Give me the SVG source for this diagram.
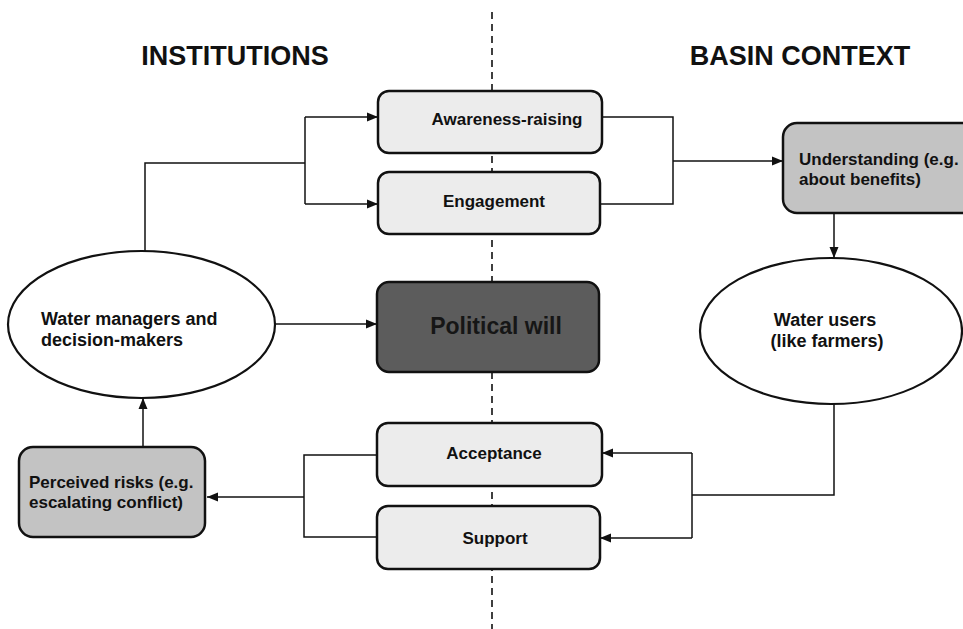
<svg xmlns="http://www.w3.org/2000/svg" width="963" height="629" viewBox="0 0 963 629">
  <style>
    text { font-family: "Liberation Sans", Arial, sans-serif; font-weight: bold; fill: #111; }
    .title { font-size: 27px; }
    .lbl { font-size: 17px; }
    .big { font-size: 23px; fill: #161616; }
    .ell { font-size: 18px; }
    .box { stroke: #111; stroke-width: 2.5; }
    .light { fill: #ececec; }
    .mid { fill: #c3c3c3; }
    .dark { fill: #5c5c5c; }
    .oval { fill: #fff; stroke: #111; stroke-width: 2.2; }
    .wire { fill: none; stroke: #111; stroke-width: 1.5; }
    .divider { stroke: #111; stroke-width: 1.6; stroke-dasharray: 7 5; }
  </style>
  <defs>
    <marker id="arrow" viewBox="0 0 11 10" refX="11" refY="5" markerWidth="11" markerHeight="10" markerUnits="userSpaceOnUse" orient="auto">
      <path d="M0,0.5 L11,5 L0,9.5 Z" fill="#111"/>
    </marker>
  </defs>

  <rect width="963" height="629" fill="#fff"/>

  <!-- central divider -->
  <line class="divider" x1="492" y1="12" x2="492" y2="629"/>

  <!-- headings -->
  <text class="title" x="235" y="65" text-anchor="middle">INSTITUTIONS</text>
  <text class="title" x="800" y="65" text-anchor="middle">BASIN CONTEXT</text>

  <!-- connectors -->
  <g id="connectors">
    <path class="wire" d="M145,251 V163 H305"/>
    <path class="wire" d="M305,117 V204"/>
    <path class="wire" d="M305,117 H378" marker-end="url(#arrow)"/>
    <path class="wire" d="M305,204 H378" marker-end="url(#arrow)"/>
    <path class="wire" d="M602,117 H673 V204 H600"/>
    <path class="wire" d="M673,161 H783" marker-end="url(#arrow)"/>
    <path class="wire" d="M834,213 V258" marker-end="url(#arrow)"/>
    <path class="wire" d="M275,324 H377" marker-end="url(#arrow)"/>
    <path class="wire" d="M834,404 V495 H692"/>
    <path class="wire" d="M692,453 V538"/>
    <path class="wire" d="M692,453 H602" marker-end="url(#arrow)"/>
    <path class="wire" d="M692,538 H600" marker-end="url(#arrow)"/>
    <path class="wire" d="M377,455 H304 V537 H377"/>
    <path class="wire" d="M304,497 H207" marker-end="url(#arrow)"/>
    <path class="wire" d="M143,447 V398" marker-end="url(#arrow)"/>
  </g>

  <g id="awareness">
    <rect class="box light" x="378" y="91" width="224" height="62" rx="11"/>
    <text class="lbl" x="507" y="125" text-anchor="middle">Awareness-raising</text>
  </g>
  <g id="engagement">
    <rect class="box light" x="378" y="172" width="222" height="62" rx="11"/>
    <text class="lbl" x="494" y="207" text-anchor="middle">Engagement</text>
  </g>
  <g id="political-will">
    <rect class="box dark" x="377" y="282" width="222" height="90" rx="12"/>
    <text class="big" x="496" y="334" text-anchor="middle">Political will</text>
  </g>
  <g id="acceptance">
    <rect class="box light" x="377" y="423" width="225" height="63" rx="11"/>
    <text class="lbl" x="494" y="459" text-anchor="middle">Acceptance</text>
  </g>
  <g id="support">
    <rect class="box light" x="377" y="506" width="223" height="63" rx="11"/>
    <text class="lbl" x="495" y="544" text-anchor="middle">Support</text>
  </g>
  <g id="understanding">
    <rect class="box mid" x="783" y="123" width="200" height="90" rx="14"/>
    <text class="lbl" x="799" y="165" font-size="17.2">Understanding (e.g.</text>
    <text class="lbl" x="799" y="185" font-size="17.2">about benefits)</text>
  </g>
  <g id="perceived-risks">
    <rect class="box mid" x="19" y="447" width="186" height="90" rx="14"/>
    <text class="lbl" x="29" y="488" font-size="18">Perceived risks (e.g.</text>
    <text class="lbl" x="29" y="508" font-size="18">escalating conflict)</text>
  </g>
  <g id="water-managers">
    <ellipse class="oval" cx="141.5" cy="324.5" rx="133.5" ry="73.5"/>
    <text class="ell" x="41" y="325" font-size="19">Water managers and</text>
    <text class="ell" x="41" y="346" font-size="19">decision-makers</text>
  </g>
  <g id="water-users">
    <ellipse class="oval" cx="831" cy="331" rx="131" ry="73"/>
    <text class="ell" x="825" y="326" text-anchor="middle">Water users</text>
    <text class="ell" x="827" y="347" text-anchor="middle">(like farmers)</text>
  </g>
</svg>
